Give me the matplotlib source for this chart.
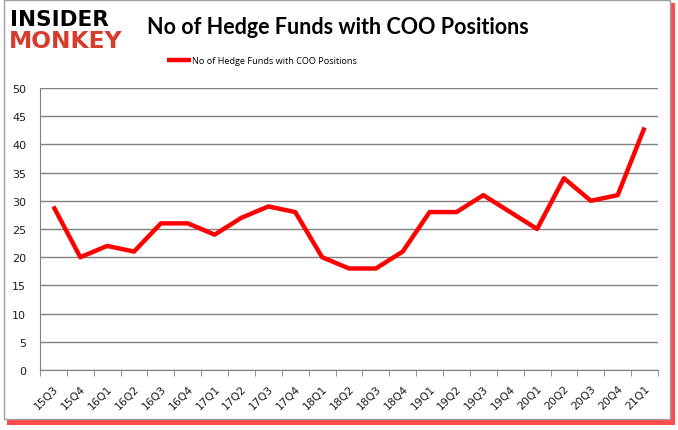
import matplotlib.pyplot as plt
from matplotlib.patches import Rectangle

# quarters and hedge fund counts
quarters = ['15Q3', '15Q4', '16Q1', '16Q2', '16Q3', '16Q4', '17Q1', '17Q2',
            '17Q3', '17Q4', '18Q1', '18Q2', '18Q3', '18Q4', '19Q1', '19Q2',
            '19Q3', '19Q4', '20Q1', '20Q2', '20Q3', '20Q4', '21Q1']
funds = [29, 20, 22, 21, 26, 26, 24, 27, 29, 28, 20, 18, 18, 21, 28, 28,
         31, 28, 25, 34, 30, 31, 43]
yticks = [0, 5, 10, 15, 20, 25, 30, 35, 40, 45, 50]
series_name = 'No of Hedge Funds with COO Positions'

W, H = 678, 431
fig = plt.figure(figsize=(W / 100, H / 100), dpi=100)

# frame with red shadow
fig.patches.append(Rectangle((7 / W, 1 - 426 / H), 668 / W, 422 / H,
                             transform=fig.transFigure, facecolor='#ff2020',
                             edgecolor='none', alpha=0.8, zorder=-3))
fig.patches.append(Rectangle((4 / W, 1 - 420 / H), 666 / W, 419 / H,
                             transform=fig.transFigure, facecolor='white',
                             edgecolor='#a0a0a0', lw=1, zorder=-2))

ax = fig.add_axes([40 / W, 1 - 371 / H, 618 / W, 282 / H])
ax.patch.set_alpha(0)
x = list(range(len(quarters)))
line, = ax.plot(x, funds, color='#ff0000', lw=3.2, solid_joinstyle='round',
                solid_capstyle='butt', label=series_name, zorder=3)

ax.set_xlim(-0.5, len(quarters) - 0.5)
ax.set_ylim(0, 50)
ax.set_yticks(yticks)
ax.yaxis.grid(True, color='#808080', lw=1)
ax.set_axisbelow(True)
for s in ['top', 'right']:
    ax.spines[s].set_visible(False)
ax.spines['left'].set_color('#808080')
ax.spines['bottom'].set_color('#808080')
ax.tick_params(axis='y', length=0, labelsize=8, labelcolor='#1a1a2e', pad=10)
ax.set_xticks(x)
ax.set_xticklabels(quarters, rotation=45, ha='right', rotation_mode='anchor',
                   fontsize=7.8, color='#1a1a1a')
ax.tick_params(axis='x', length=0, pad=9)
ax.set_xticks([i - 0.5 for i in range(len(quarters) + 1)], minor=True)
ax.tick_params(axis='x', which='minor', length=4, color='#808080')

fig.text(338 / W, 1 - 27 / H, 'No of Hedge Funds with COO Positions',
         ha='center', va='center', fontsize=15.5, fontweight='bold',
         family='Lato', color='black')
fig.legend(handles=[line], loc='center', bbox_to_anchor=(262 / W, 1 - 62 / H),
           frameon=False, handlelength=2.6, handletextpad=0.1,
           prop={'family': 'Open Sans', 'size': 6.6})

# logo
fig.text(10 / W, 1 - 20 / H, 'INSIDER', ha='left', va='center', fontsize=15.5,
         fontweight='heavy', family='DejaVu Sans', color='black')
fig.text(9 / W, 1 - 42 / H, 'MONKEY', ha='left', va='center', fontsize=16.8,
         fontweight='heavy', family='DejaVu Sans', color='#d63b2b')

fig.savefig('out.png', dpi=100)
